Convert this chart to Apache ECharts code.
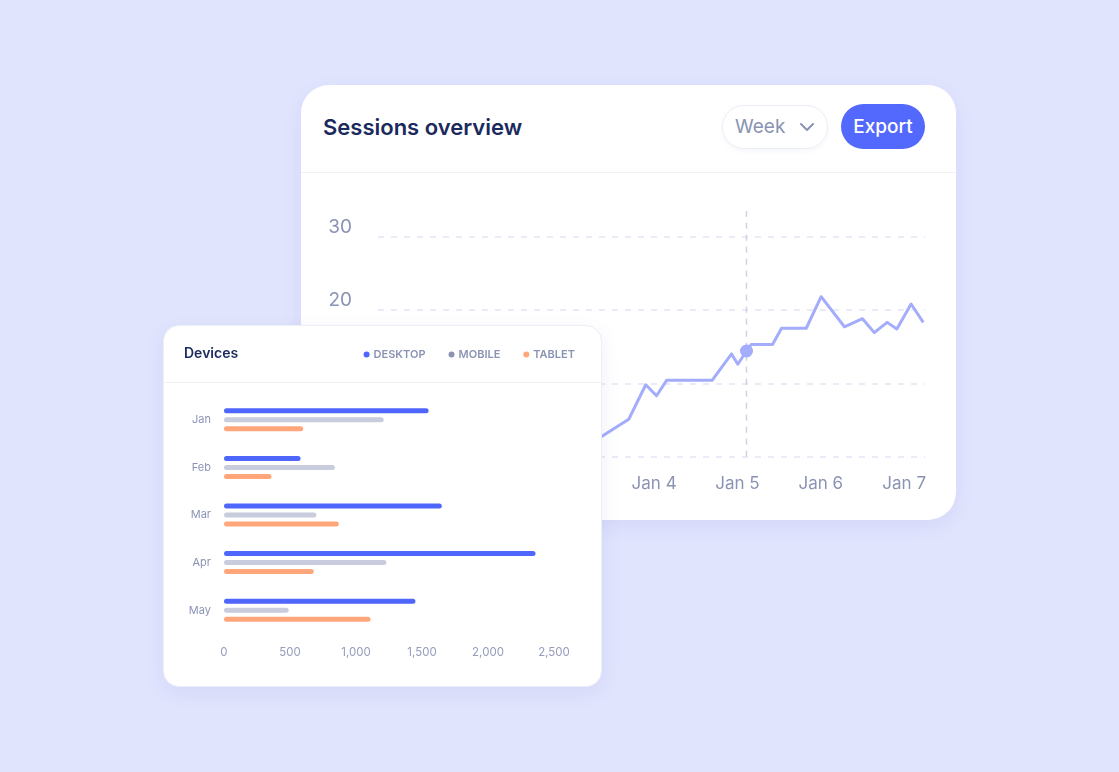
<!DOCTYPE html>
<html>
<head>
<meta charset="utf-8">
<script src="https://cdn.jsdelivr.net/npm/echarts@6/dist/echarts.min.js"></script>
<style>
  html, body { margin: 0; padding: 0; }
  body { width: 1119px; height: 772px; background: #e1e4fd; position: relative; overflow: hidden; font-family: Inter, "Noto Sans", sans-serif; }
  .card { position: absolute; background: #ffffff; }
  #main { left: 301px; top: 85px; width: 655px; height: 435px; border-radius: 28px; box-shadow: 0 6px 18px rgba(95,105,210,0.10); z-index: 1; }
  #main .title { position: absolute; left: 22px; top: 27px; font-size: 22px; font-weight: 600; color: #1b2a5c; line-height: 30px; }
  #main .divider { position: absolute; left: 0; right: 0; top: 87px; height: 1px; background: #f1f2f8; }
  #week { position: absolute; left: 421px; top: 20px; width: 104px; height: 42px; border: 1.5px solid #eceef6; border-radius: 23px; box-shadow: 0 2px 5px rgba(120,130,200,0.07); }
  #week span { position: absolute; left: 12px; top: 0; line-height: 42px; font-size: 19px; color: #8a93b2; }
  #week svg { position: absolute; left: 76px; top: 16px; }
  #export { position: absolute; left: 540px; top: 19px; width: 84px; height: 45px; border-radius: 23px; background: #5368fd; color: #fff; font-size: 19px; font-weight: 500; line-height: 45px; text-align: center; }
  #lineChart { position: absolute; left: 301px; top: 173px; width: 655px; height: 347px; z-index: 2; }
  #devices { left: 163px; top: 325px; width: 437px; height: 360px; border-radius: 16px; border: 1px solid #eceef8; box-shadow: 0 6px 18px rgba(95,105,210,0.10); z-index: 3; }
  #devices .title { position: absolute; left: 20px; top: 17px; font-size: 14px; font-weight: 600; color: #1b2a5c; line-height: 20px; }
  #devices .divider { position: absolute; left: 0; right: 0; top: 56px; height: 1px; background: #f1f2f8; }
  #barChart { position: absolute; left: 163px; top: 325px; width: 439px; height: 362px; z-index: 4; }
</style>
</head>
<body>
<div class="card" id="main">
  <div class="title">Sessions overview</div>
  <div id="week"><span>Week</span>
    <svg width="16" height="10" viewBox="0 0 16 10"><polyline points="2,2 8,8 14,2" fill="none" stroke="#8a93b2" stroke-width="2" stroke-linecap="round" stroke-linejoin="round"/></svg>
  </div>
  <div id="export">Export</div>
  <div class="divider"></div>
</div>
<div id="lineChart"></div>
<div class="card" id="devices">
  <div class="title">Devices</div>
  <div class="divider"></div>
</div>
<div id="barChart"></div>
<script>
// ---- Sessions line data (hours since Jan 1 00:00, sessions) ----
const sessionHours = [-7.5, -2, 4, 10, 17, 22, 28, 33, 40, 46, 52, 64.7, 69.6, 72.7, 75.6, 82, 88.7, 94.3, 96.1, 98.6, 100.0, 106.1, 108.7, 115.8, 120.1, 126.8, 132.0, 135.4, 139.1, 141.9, 146.0, 149.5];
const sessionValues = [5.2, 4.4, 6.1, 5.0, 3.6, 4.3, 5.6, 4.6, 2.6, 3.4, 1.3, 5.1, 9.8, 8.3, 10.4, 10.4, 10.4, 14.0, 12.6, 14.4, 15.3, 15.3, 17.5, 17.5, 21.8, 17.7, 18.8, 16.9, 18.3, 17.4, 20.8, 18.3];
const dayTicks = [0, 24, 48, 72, 96, 120, 144];
const dayLabels = ['Jan 1', 'Jan 2', 'Jan 3', 'Jan 4', 'Jan 5', 'Jan 6', 'Jan 7'];
const yTicks = [0, 10, 20, 30];
const highlightHour = 98.6;
const highlightValue = 14.4;

// ---- Devices bar data ----
const months = ['Jan', 'Feb', 'Mar', 'Apr', 'May'];
const desktop = [1550, 580, 1650, 2360, 1450];
const mobile = [1210, 840, 700, 1230, 490];
const tablet = [600, 360, 870, 680, 1110];
const barTicks = [0, 500, 1000, 1500, 2000, 2500];

const labelColor = '#8b93b5';

const lineChart = echarts.init(document.getElementById('lineChart'));
lineChart.setOption({
  animation: false,
  grid: [
    { left: 77, right: 31, top: 63.5, bottom: 63.3 },
    { left: 77, right: 31, top: 38, bottom: 63.3 }
  ],
  xAxis: [
    {
      type: 'value', gridIndex: 0, min: -7.5, max: 150,
      axisLine: { show: false }, axisTick: { show: false }, splitLine: { show: false },
      axisLabel: {
        customValues: dayTicks,
        formatter: function (v) { return dayLabels[dayTicks.indexOf(v)] || ''; },
        color: labelColor, fontSize: 17, fontFamily: 'Inter', margin: 19
      }
    },
    { type: 'value', gridIndex: 1, min: -7.5, max: 150, show: false }
  ],
  yAxis: [
    {
      type: 'value', gridIndex: 0, min: yTicks[0], max: yTicks[yTicks.length - 1], interval: 10,
      axisLine: { show: false }, axisTick: { show: false },
      splitLine: { show: true, lineStyle: { color: '#e2e5f3', width: 1.5, type: [6, 7] } },
      axisLabel: { color: labelColor, fontSize: 19, fontFamily: 'Inter', margin: 26, verticalAlign: 'bottom' }
    },
    { type: 'value', gridIndex: 1, min: 0, max: 1, show: false }
  ],
  series: [
    {
      type: 'line', xAxisIndex: 1, yAxisIndex: 1, symbol: 'none', silent: true, z: 1,
      lineStyle: { color: '#cfd2e6', width: 1.5, type: [6, 6] },
      data: [[highlightHour, 0], [highlightHour, 1]]
    },
    {
      type: 'line', xAxisIndex: 0, yAxisIndex: 0, symbol: 'none', z: 3,
      lineStyle: { color: '#a3adfb', width: 3, join: 'round' },
      data: sessionHours.map(function (h, i) { return [h, sessionValues[i]]; })
    },
    {
      type: 'scatter', xAxisIndex: 0, yAxisIndex: 0, symbolSize: 13, z: 4,
      itemStyle: { color: '#a3adfb', opacity: 1 },
      data: [[highlightHour, highlightValue]]
    }
  ]
});

const barChart = echarts.init(document.getElementById('barChart'));
const seriesColors = { DESKTOP: '#4e66fb', MOBILE: '#c8ccdc', TABLET: '#ffa77b' };
const legendColors = { DESKTOP: '#4e66fb', MOBILE: '#8c93b2', TABLET: '#ffa77b' };
function barSeries(name, values) {
  return {
    name: name, type: 'bar', barWidth: 5, barGap: '80%',
    itemStyle: { color: seriesColors[name], borderRadius: 3 },
    data: values
  };
}
barChart.setOption({
  animation: false,
  legend: {
    right: 22, top: 19, icon: 'circle', itemWidth: 6, itemHeight: 6, itemGap: 23,
    textStyle: { color: labelColor, fontSize: 11, fontWeight: 600, fontFamily: 'Inter', padding: [0, 0, 0, -1] },
    data: ['DESKTOP', 'MOBILE', 'TABLET'].map(function (n) { return { name: n, itemStyle: { color: legendColors[n] } }; })
  },
  grid: { left: 61, right: 48, top: 71, bottom: 53 },
  xAxis: {
    type: 'value', min: barTicks[0], max: barTicks[barTicks.length - 1], interval: 500,
    axisLine: { show: false }, axisTick: { show: false }, splitLine: { show: false },
    axisLabel: {
      color: '#959cbc', fontSize: 11.5, fontFamily: 'Inter', margin: 13,
      formatter: function (v) { return v.toLocaleString('en-US'); }
    }
  },
  yAxis: {
    type: 'category', inverse: true, data: months,
    axisLine: { show: false }, axisTick: { show: false },
    axisLabel: { color: labelColor, fontSize: 11, fontFamily: 'Inter', margin: 13 }
  },
  series: [
    barSeries('DESKTOP', desktop),
    barSeries('MOBILE', mobile),
    barSeries('TABLET', tablet)
  ]
});
</script>
</body>
</html>
